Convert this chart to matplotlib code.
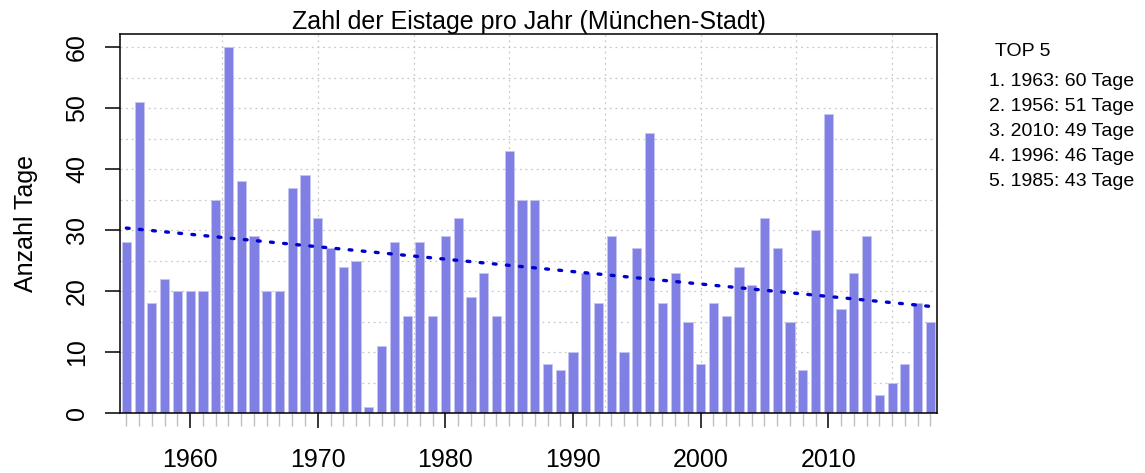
import numpy as np
import matplotlib
matplotlib.use("Agg")
import matplotlib.pyplot as plt

years = list(range(1955, 2019))
eistage = [28, 51, 18, 22, 20, 20, 20, 35, 60, 38,
           29, 20, 20, 37, 39, 32, 27, 24, 25, 1,
           11, 28, 16, 28, 16, 29, 32, 19, 23, 16,
           43, 35, 35, 8, 7, 10, 23, 18, 29, 10,
           27, 46, 18, 23, 15, 8, 18, 16, 24, 21,
           32, 27, 15, 7, 30, 49, 17, 23, 29, 3,
           5, 8, 18, 15]
# linear trend (start / end)
trend_years = [1955, 2018]
trend_values = [30.35, 17.5]
title = "Zahl der Eistage pro Jahr (München-Stadt)"
ylabel = "Anzahl Tage"
top_title = "TOP 5"

plt.rcParams['font.family'] = ['Liberation Sans', 'DejaVu Sans']

fig = plt.figure(figsize=(11.45, 4.73), dpi=100)
ax = fig.add_axes([0.1051, 0.1268, 0.7135, 0.8013])

x = np.array(years, dtype=float)
y = np.array(eistage, dtype=float)

# grid
for gy in np.arange(5, 61, 5):
    ax.axhline(gy, color='#c8c8c8', lw=0.9, ls=(0, (1.5, 3)), zorder=0)
for gx in np.arange(1962.5, 2018, 7.5):
    ax.axvline(gx, color='#c8c8c8', lw=0.9, ls=(0, (1.5, 3)), zorder=0)

ax.bar(x, y, width=0.72, color='#7f7fe4', edgecolor='#c6c6f2', linewidth=0.6, zorder=2)

# trend
ax.plot(trend_years, trend_values, color='#0000cd', lw=2.4,
        ls=(0, (0.85, 3.1)), dash_capstyle='round', zorder=3)

ax.set_xlim(1954.53, 2018.54)
ax.set_ylim(0, 62.2)

ax.set_yticks(np.arange(0, 61, 10))
ax.set_yticklabels([str(v) for v in range(0, 61, 10)], rotation=90, va='center', fontsize=18)
ax.tick_params(axis='y', length=11, width=1.1, pad=11.5)

ax.set_xticks(np.arange(1960, 2011, 10))
ax.set_xticklabels([str(v) for v in range(1960, 2011, 10)], fontsize=18)
ax.tick_params(axis='x', which='major', length=11, width=1.1, pad=14.5)
ax.set_xticks(x, minor=True)
ax.tick_params(axis='x', which='minor', length=9.5, width=1.0, color='#c0c0c0')
ax.tick_params(axis='y', which='minor', length=0)

for s in ax.spines.values():
    s.set_linewidth(1.1)

ax.set_ylabel(ylabel, fontsize=18, labelpad=19.5)
ax.set_title(title, fontsize=18, pad=3)

fig.text(995 / 1145, 1 - 52 / 473, top_title, fontsize=14, va='center', ha='left')
order = np.argsort(-y, kind='stable')[:5]
for i, idx in enumerate(order):
    fig.text(989 / 1145, 1 - (82 + 24.8 * i) / 473,
             f"{i + 1}. {years[idx]}: {eistage[idx]} Tage",
             fontsize=14, va='center', ha='left')

fig.savefig("out.png", dpi=100)
